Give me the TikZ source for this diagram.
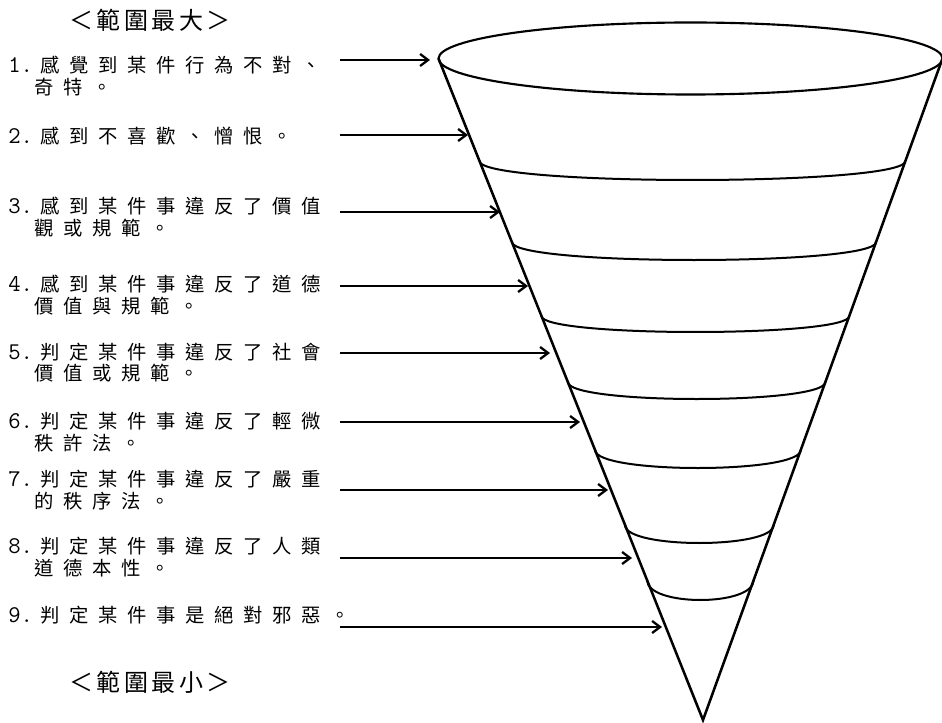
\documentclass[tikz,border=0pt]{standalone}
\usepackage{fontspec}
\newfontfamily\cjk[LetterSpace=50]{Noto Sans CJK TC}
\newfontfamily\cjkhead[LetterSpace=14]{Noto Sans CJK TC}
\usetikzlibrary{arrows.meta,calc,shapes.geometric}

\newcommand\stagenum[1]{\makebox[24pt][l]{\fontsize{18}{20}\selectfont\ttfamily #1}}
\newcommand\nextline{\\\hspace*{20pt}}

\tikzset{
  >={Straight Barb[length=6pt,width=9pt]},
  item/.style={anchor=base west, inner sep=0pt, align=left,
    font=\cjk\fontsize{14.5}{16.5}\selectfont},
  heading/.style={inner sep=0pt, font=\cjkhead\fontsize{18}{20}\selectfont},
  pointer/.style={->, line width=1.7pt},
  cone/.style={line width=1.9pt},
  layer/.style={line width=1.5pt},
}

\begin{document}
\begin{tikzpicture}[x=0.75pt,y=-0.75pt]
  \useasboundingbox (0,0) rectangle (942,723);

  % headings
  \node[heading] (widest) at (150,20) {＜範圍最大＞};
  \node[heading] (narrowest) at (150,682) {＜範圍最小＞};

  % funnel
  \node[ellipse, draw, line width=1.6pt, minimum width=378pt, minimum height=54pt,
    inner sep=0pt, outer sep=0pt] (rim) at (690.5,58.5) {};
  \coordinate (apex) at (703,720);
  \draw[cone] (rim.west) -- (apex) -- (rim.east);

  \foreach \y/\d [count=\i] in {161/19,242/18,316/16,382/17,450/18,525/18,580/20} {
    \coordinate (l\i) at ($(rim.west)!{(\y-58.5)/661.5}!(apex)$);
    \coordinate (r\i) at ($(rim.east)!{(\y-58.5)/661.5}!(apex)$);
    \draw[layer] (l\i) .. controls +(0,{4*\d/3}) and +(0,{4*\d/3}) .. (r\i);
  }

  % stages (base = last line)
  \node[item] (s1) at (8,95) {\stagenum{1.}感覺到某件行為不對、\nextline 奇特。};
  \node[item] (s2) at (8,144) {\stagenum{2.}感到不喜歡、憎恨。};
  \node[item] (s3) at (8,236) {\stagenum{3.}感到某件事違反了價值\nextline 觀或規範。};
  \node[item] (s4) at (8,314) {\stagenum{4.}感到某件事違反了道德\nextline 價值與規範。};
  \node[item] (s5) at (8,381) {\stagenum{5.}判定某件事違反了社會\nextline 價值或規範。};
  \node[item] (s6) at (8,450) {\stagenum{6.}判定某件事違反了輕微\nextline 秩許法。};
  \node[item] (s7) at (8,508) {\stagenum{7.}判定某件事違反了嚴重\nextline 的秩序法。};
  \node[item] (s8) at (8,575) {\stagenum{8.}判定某件事違反了人類\nextline 道德本性。};
  \node[item] (s9) at (8,622) {\stagenum{9.}判定某件事是絕對邪惡。};

  % arrows into the funnel
  \foreach \y/\x [count=\i] in {60/430,135/468,212/500,286/528,353/550,422/580,490/608,558/632,627/662} {
    \coordinate (a\i) at (340,\y);
    \coordinate (t\i) at (\x,\y);
    \draw[pointer] (a\i) -- (t\i);
  }
\end{tikzpicture}
\end{document}
